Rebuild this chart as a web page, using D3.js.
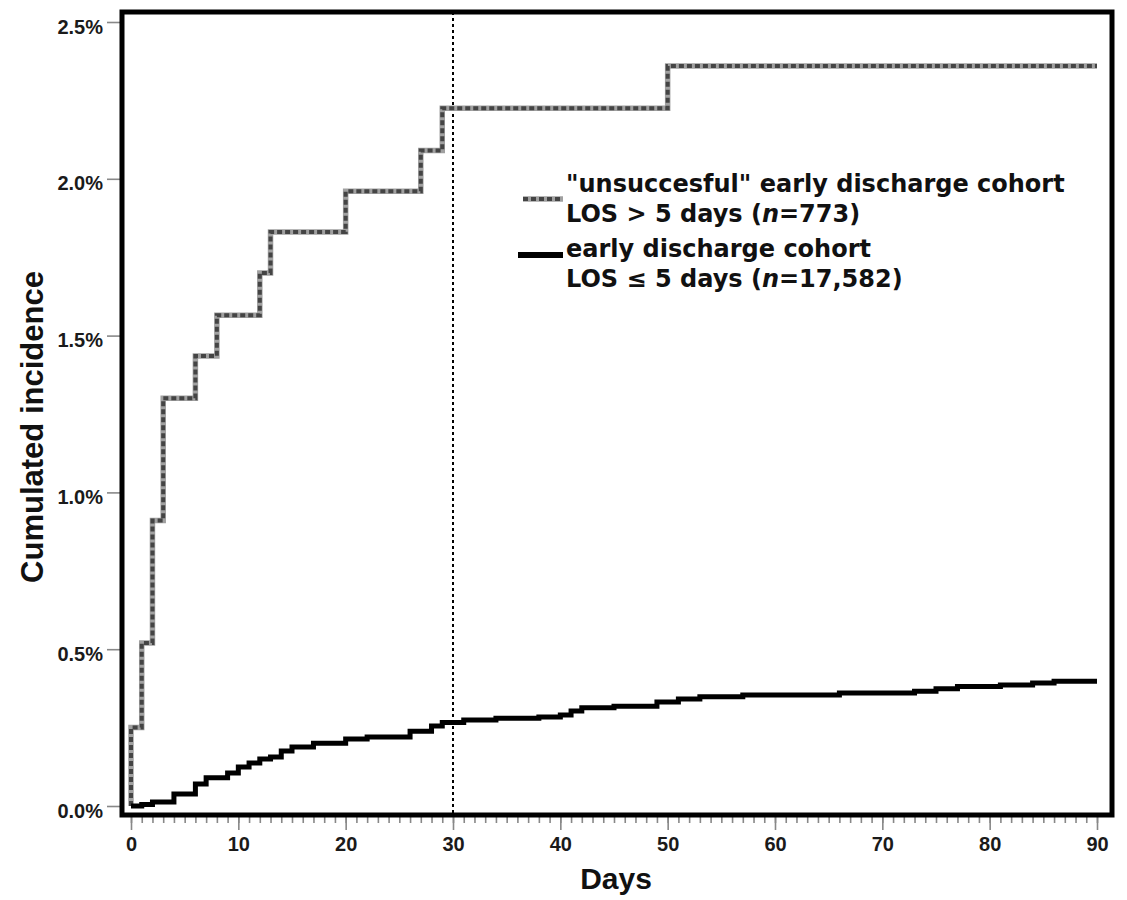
<!DOCTYPE html>
<html>
<head>
<meta charset="utf-8">
<script src="https://cdn.jsdelivr.net/npm/d3@7"></script>
<style>
body { margin: 0; background: #fff; }
</style>
</head>
<body>
<script>
// step data (days, cumulated incidence in %)
var greyDays = [0, 0, 1, 2, 3, 6, 8, 12, 13, 20, 27, 29, 50, 90];
var greyPct = [0, 0.25, 0.52, 0.91, 1.30, 1.435, 1.565, 1.70, 1.83, 1.96, 2.09, 2.225, 2.36, 2.36];

var blackDays = [0, 1, 2, 4, 6, 7, 9, 10, 11, 12, 13, 14, 15, 17, 20, 22, 26, 28, 29, 31,
		 34, 38, 40, 41, 42, 45, 49, 51, 53, 57, 66, 73, 75, 77, 81, 84, 86, 90];
var blackPct = [0.0, 0.005, 0.013, 0.038, 0.07, 0.09, 0.105, 0.124, 0.137, 0.15,
		0.156, 0.175, 0.188, 0.2, 0.214, 0.22, 0.238, 0.255, 0.266, 0.274,
		0.28, 0.284, 0.29, 0.303, 0.313, 0.318, 0.332, 0.341, 0.348, 0.354,
		0.36, 0.366, 0.374, 0.381, 0.386, 0.392, 0.398, 0.398];

var xTicks = [0, 10, 20, 30, 40, 50, 60, 70, 80, 90];
var yTicks = [0, 0.5, 1.0, 1.5, 2.0, 2.5];
var cutoffDay = 30;

var legendRows = [
    {lines: ["\"unsuccesful\" early discharge cohort", "LOS > 5 days (|n|=773)"], kind: "grey"},
    {lines: ["early discharge cohort", "LOS \u2264 5 days (|n|=17,582)"], kind: "black"}
];

var W = 1127, H = 900;
var box = {left: 122, top: 12, right: 1112, bottom: 815};

var x = d3.scaleLinear().domain([0, 90]).range([131, 1097]);
var y = d3.scaleLinear().domain([0, 2.5]).range([806, 22]);

var svg = d3.select("body").append("svg")
    .attr("width", W)
    .attr("height", H);

var tickFont = "'Liberation Sans', Arial, sans-serif";
var legFont = "'DejaVu Sans', Verdana, sans-serif";

// x axis: minor ticks every day, major every 10
var minor = svg.append("g")
    .attr("transform", "translate(0," + (box.bottom + 2) + ")")
    .call(d3.axisBottom(x).tickValues(d3.range(0, 91, 1)).tickSize(6).tickFormat(""));
var major = svg.append("g")
    .attr("transform", "translate(0," + (box.bottom + 2) + ")")
    .call(d3.axisBottom(x).tickValues(xTicks).tickSize(13).tickPadding(10));
[minor, major].forEach(function(g){
    g.select(".domain").remove();
    g.selectAll(".tick line").attr("stroke", "#888").attr("stroke-width", 1.6);
});
major.selectAll(".tick text")
    .attr("font-family", tickFont)
    .attr("font-weight", "bold")
    .attr("font-size", 20)
    .attr("fill", "#1a1a1a")
    .attr("dy", "0.55em");

// y axis
var yAx = svg.append("g")
    .attr("transform", "translate(" + (box.left - 2) + ",0)")
    .call(d3.axisLeft(y).tickValues(yTicks).tickSize(13).tickPadding(4)
	  .tickFormat(function(d){ return d.toFixed(1) + "%"; }));
yAx.select(".domain").remove();
yAx.selectAll(".tick line").attr("stroke", "#888").attr("stroke-width", 1.6);
yAx.selectAll(".tick text")
    .attr("font-family", tickFont)
    .attr("font-weight", "bold")
    .attr("font-size", 20)
    .attr("fill", "#1a1a1a")
    .attr("dy", "0.55em");

// axis titles
svg.append("text")
    .attr("x", 616).attr("y", 889)
    .attr("text-anchor", "middle")
    .attr("font-family", tickFont)
    .attr("font-weight", "bold")
    .attr("font-size", 30)
    .attr("fill", "#111")
    .text("Days");
svg.append("text")
    .attr("transform", "translate(43,427) rotate(-90)")
    .attr("text-anchor", "middle")
    .attr("font-family", tickFont)
    .attr("font-weight", "bold")
    .attr("font-size", 31)
    .attr("fill", "#111")
    .text("Cumulated incidence");

// 30 day marker
svg.append("line")
    .attr("x1", x(cutoffDay)).attr("x2", x(cutoffDay))
    .attr("y1", box.top).attr("y2", box.bottom)
    .attr("stroke", "#000")
    .attr("stroke-width", 2)
    .attr("stroke-dasharray", "3,3");

var line = d3.line()
    .x(function(d){ return x(d[0]); })
    .y(function(d){ return y(d[1]); })
    .curve(d3.curveStepAfter);

var greyData = d3.zip(greyDays, greyPct);
var blackData = d3.zip(blackDays, blackPct);

function greyStroke(sel){
    sel.append("path").attr("fill", "none")
	.attr("stroke", "#a0a0a0").attr("stroke-width", 5.5);
    sel.append("path").attr("fill", "none")
	.attr("stroke", "#444").attr("stroke-width", 4)
	.attr("stroke-dasharray", "5,3");
}

var g1 = svg.append("g");
greyStroke(g1);
g1.selectAll("path").attr("d", line(greyData));

svg.append("path")
    .attr("d", line(blackData))
    .attr("fill", "none")
    .attr("stroke", "#000")
    .attr("stroke-width", 5);

// frame
svg.append("rect")
    .attr("x", box.left).attr("y", box.top)
    .attr("width", box.right - box.left)
    .attr("height", box.bottom - box.top)
    .attr("fill", "none")
    .attr("stroke", "#000")
    .attr("stroke-width", 5);

// legend
var legTop = [192, 257];
legendRows.forEach(function(row, i){
    var base = legTop[i];
    if (row.kind == "grey"){
	var sw = svg.append("g");
	greyStroke(sw);
	sw.selectAll("path").attr("d", "M523," + (base + 7) + "H563");
    } else {
	svg.append("line")
	    .attr("x1", 518).attr("x2", 563)
	    .attr("y1", base - 2).attr("y2", base - 2)
	    .attr("stroke", "#000").attr("stroke-width", 6);
    }
    row.lines.forEach(function(s, j){
	var t = svg.append("text")
	    .attr("x", 566)
	    .attr("y", base + j * 30)
	    .attr("font-family", legFont)
	    .attr("font-weight", "bold")
	    .attr("font-size", 24)
	    .attr("fill", "#111");
	s.split("|").forEach(function(part, k){
	    t.append("tspan")
		.attr("font-style", k == 1 ? "italic" : null)
		.text(part);
	});
    });
});
</script>
</body>
</html>
